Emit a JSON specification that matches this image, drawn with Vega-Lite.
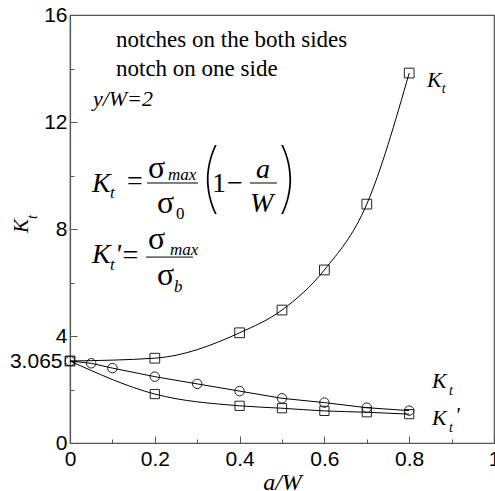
{
  "$schema": "https://vega.github.io/schema/vega-lite/v6.json",
  "width": 424,
  "height": 428,
  "autosize": {"type": "none"},
  "padding": {"left": 70, "top": 15, "right": 1, "bottom": 48},
  "background": "white",
  "config": {
    "view": {"stroke": "#555", "strokeWidth": 1.2},
    "axis": {
      "grid": false,
      "domainColor": "#555",
      "domainWidth": 1.2,
      "tickColor": "#555",
      "tickWidth": 1,
      "labelFont": "Liberation Sans",
      "labelFontSize": 21,
      "labelColor": "black",
      "labelFlush": false,
      "labelOverlap": false,
      "labelBound": false
    },
    "text": {"font": "Liberation Serif", "color": "black", "align": "left", "baseline": "alphabetic"}
  },
  "datasets": {
    "curves": [
      {"series": "both", "x": 0, "y": 3.065},
      {"series": "both", "x": 0.2, "y": 3.17},
      {"series": "both", "x": 0.4, "y": 4.12},
      {"series": "both", "x": 0.5, "y": 4.97},
      {"series": "both", "x": 0.6, "y": 6.47},
      {"series": "both", "x": 0.7, "y": 8.93},
      {"series": "both", "x": 0.8, "y": 13.83},
      {"series": "one", "x": 0, "y": 3.065},
      {"series": "one", "x": 0.05, "y": 2.98},
      {"series": "one", "x": 0.1, "y": 2.8},
      {"series": "one", "x": 0.2, "y": 2.48},
      {"series": "one", "x": 0.3, "y": 2.21},
      {"series": "one", "x": 0.4, "y": 1.94},
      {"series": "one", "x": 0.5, "y": 1.67},
      {"series": "one", "x": 0.6, "y": 1.51},
      {"series": "one", "x": 0.7, "y": 1.32},
      {"series": "one", "x": 0.8, "y": 1.21},
      {"series": "prime", "x": 0, "y": 3.065},
      {"series": "prime", "x": 0.2, "y": 1.83},
      {"series": "prime", "x": 0.4, "y": 1.39},
      {"series": "prime", "x": 0.5, "y": 1.3},
      {"series": "prime", "x": 0.6, "y": 1.2},
      {"series": "prime", "x": 0.7, "y": 1.15},
      {"series": "prime", "x": 0.8, "y": 1.08}
    ],
    "notes": [
      {"label": "notches on the both sides", "x": 0.1085, "y": 14.8},
      {"label": "notch on one side", "x": 0.1085, "y": 13.72}
    ],
    "ratio": [{"label": "y/W=2", "x": 0.054, "y": 12.6}],
    "italicBig": [
      {"label": "K", "x": 0.0519, "y": 9.383},
      {"label": "K", "x": 0.0519, "y": 6.729},
      {"label": "'", "x": 0.1061, "y": 6.72},
      {"label": "a", "x": 0.4387, "y": 9.907},
      {"label": "W", "x": 0.4245, "y": 8.636}
    ],
    "romanBig": [
      {"label": "=", "x": 0.1344, "y": 9.458},
      {"label": "1", "x": 0.335, "y": 9.383},
      {"label": "−", "x": 0.37, "y": 9.383},
      {"label": "=", "x": 0.124, "y": 6.692}
    ],
    "sigma": [
      {"label": "σ", "x": 0.184, "y": 9.907},
      {"label": "σ", "x": 0.2052, "y": 8.598},
      {"label": "σ", "x": 0.184, "y": 7.252},
      {"label": "σ", "x": 0.2052, "y": 5.907}
    ],
    "subItalic": [
      {"label": "t", "x": 0.0943, "y": 9.159},
      {"label": "max", "x": 0.2311, "y": 9.832},
      {"label": "t", "x": 0.0943, "y": 6.467},
      {"label": "max", "x": 0.2358, "y": 7.028},
      {"label": "b", "x": 0.2453, "y": 5.645}
    ],
    "subRoman": [{"label": "0", "x": 0.25, "y": 8.374}],
    "parens": [
      {"label": "(", "x": 0.302, "y": 8.93},
      {"label": ")", "x": 0.486, "y": 8.93}
    ],
    "bars": [
      {"x": 0.1816, "x2": 0.3019, "y": 9.72},
      {"x": 0.4245, "x2": 0.488, "y": 9.72},
      {"x": 0.179, "x2": 0.29, "y": 6.95}
    ],
    "curveK": [
      {"label": "K", "x": 0.842, "y": 13.308},
      {"label": "K", "x": 0.8538, "y": 2.056},
      {"label": "K", "x": 0.8538, "y": 0.673},
      {"label": "'", "x": 0.908, "y": 0.785}
    ],
    "curveT": [
      {"label": "t", "x": 0.877, "y": 13.084},
      {"label": "t", "x": 0.8939, "y": 1.794},
      {"label": "t", "x": 0.8939, "y": 0.411}
    ],
    "axisK": [{"label": "K", "x": -0.099, "y": 7.85}],
    "axisT": [{"label": "t", "x": -0.078, "y": 8.37}]
  },
  "layer": [
    {
      "data": {"name": "curves"},
      "mark": {"type": "point", "filled": false, "stroke": "#222", "strokeWidth": 1, "opacity": 1},
      "encoding": {
        "x": {
          "field": "x", "type": "quantitative",
          "scale": {"domain": [0, 1], "nice": false, "zero": false},
          "axis": {
            "title": "a/W",
            "titleFont": "Liberation Serif",
            "titleFontStyle": "italic",
            "titleFontWeight": "normal",
            "titleFontSize": 24,
            "titleColor": "black",
            "titleBaseline": "alphabetic",
            "titleY": 46,
            "values": [0, 0.1, 0.2, 0.3, 0.4, 0.5, 0.6, 0.7, 0.8, 0.9, 1],
            "labelExpr": "round(datum.value * 10) % 2 == 0 ? format(datum.value, '~g') : ''",
            "tickSize": {"condition": {"test": "round(datum.value * 10) % 2 == 1", "value": -4}, "value": -7},
            "labelPadding": 12
          }
        },
        "y": {
          "field": "y", "type": "quantitative",
          "scale": {"domain": [0, 16], "nice": false, "zero": false},
          "axis": {
            "title": null,
            "values": [0, 2, 3.065, 4, 6, 8, 10, 12, 14, 16],
            "labelExpr": "datum.value % 4 == 0 || datum.value == 3.065 ? format(datum.value, '~g') : ''",
            "tickSize": {"condition": {"test": "datum.value % 4 == 2", "value": -4}, "value": -7},
            "labelPadding": {"condition": {"test": "datum.value == 3.065", "value": 15}, "value": 10}
          }
        },
        "shape": {
          "field": "series", "type": "nominal",
          "scale": {"domain": ["both", "one", "prime"], "range": ["square", "circle", "square"]},
          "legend": null
        },
        "size": {
          "field": "series", "type": "nominal",
          "scale": {"domain": ["both", "one", "prime"], "range": [95, 85, 95]},
          "legend": null
        }
      }
    },
    {
      "data": {"name": "curves"},
      "transform": [{"filter": "datum.series != 'one'"}],
      "mark": {"type": "line", "interpolate": "monotone", "color": "black", "strokeWidth": 1},
      "encoding": {
        "x": {"field": "x", "type": "quantitative"},
        "y": {"field": "y", "type": "quantitative"},
        "detail": {"field": "series"}
      }
    },
    {
      "data": {"name": "curves"},
      "transform": [{"filter": "datum.series == 'one'"}],
      "mark": {"type": "line", "color": "black", "strokeWidth": 1},
      "encoding": {
        "x": {"field": "x", "type": "quantitative"},
        "y": {"field": "y", "type": "quantitative"}
      }
    },
    {
      "data": {"name": "bars"},
      "mark": {"type": "rule", "color": "black", "strokeWidth": 1},
      "encoding": {
        "x": {"field": "x", "type": "quantitative"},
        "x2": {"field": "x2"},
        "y": {"field": "y", "type": "quantitative"}
      }
    },
    {
      "data": {"name": "notes"},
      "mark": {"type": "text", "fontSize": 23},
      "encoding": {
        "x": {"field": "x", "type": "quantitative"},
        "y": {"field": "y", "type": "quantitative"},
        "text": {"field": "label"}
      }
    },
    {
      "data": {"name": "ratio"},
      "mark": {"type": "text", "fontSize": 22, "fontStyle": "italic"},
      "encoding": {
        "x": {"field": "x", "type": "quantitative"},
        "y": {"field": "y", "type": "quantitative"},
        "text": {"field": "label"}
      }
    },
    {
      "data": {"name": "italicBig"},
      "mark": {"type": "text", "fontSize": 28, "fontStyle": "italic"},
      "encoding": {
        "x": {"field": "x", "type": "quantitative"},
        "y": {"field": "y", "type": "quantitative"},
        "text": {"field": "label"}
      }
    },
    {
      "data": {"name": "romanBig"},
      "mark": {"type": "text", "fontSize": 28},
      "encoding": {
        "x": {"field": "x", "type": "quantitative"},
        "y": {"field": "y", "type": "quantitative"},
        "text": {"field": "label"}
      }
    },
    {
      "data": {"name": "sigma"},
      "mark": {"type": "text", "fontSize": 32},
      "encoding": {
        "x": {"field": "x", "type": "quantitative"},
        "y": {"field": "y", "type": "quantitative"},
        "text": {"field": "label"}
      }
    },
    {
      "data": {"name": "subItalic"},
      "mark": {"type": "text", "fontSize": 17, "fontStyle": "italic"},
      "encoding": {
        "x": {"field": "x", "type": "quantitative"},
        "y": {"field": "y", "type": "quantitative"},
        "text": {"field": "label"}
      }
    },
    {
      "data": {"name": "subRoman"},
      "mark": {"type": "text", "fontSize": 17},
      "encoding": {
        "x": {"field": "x", "type": "quantitative"},
        "y": {"field": "y", "type": "quantitative"},
        "text": {"field": "label"}
      }
    },
    {
      "data": {"name": "parens"},
      "mark": {"type": "text", "fontSize": 76, "font": "Inter", "fontWeight": 100},
      "encoding": {
        "x": {"field": "x", "type": "quantitative"},
        "y": {"field": "y", "type": "quantitative"},
        "text": {"field": "label"}
      }
    },
    {
      "data": {"name": "curveK"},
      "mark": {"type": "text", "fontSize": 22, "fontStyle": "italic"},
      "encoding": {
        "x": {"field": "x", "type": "quantitative"},
        "y": {"field": "y", "type": "quantitative"},
        "text": {"field": "label"}
      }
    },
    {
      "data": {"name": "curveT"},
      "mark": {"type": "text", "fontSize": 14, "fontStyle": "italic"},
      "encoding": {
        "x": {"field": "x", "type": "quantitative"},
        "y": {"field": "y", "type": "quantitative"},
        "text": {"field": "label"}
      }
    },
    {
      "data": {"name": "axisK"},
      "mark": {"type": "text", "fontSize": 21, "fontStyle": "italic", "angle": 270},
      "encoding": {
        "x": {"field": "x", "type": "quantitative"},
        "y": {"field": "y", "type": "quantitative"},
        "text": {"field": "label"}
      }
    },
    {
      "data": {"name": "axisT"},
      "mark": {"type": "text", "fontSize": 14, "fontStyle": "italic", "angle": 270},
      "encoding": {
        "x": {"field": "x", "type": "quantitative"},
        "y": {"field": "y", "type": "quantitative"},
        "text": {"field": "label"}
      }
    }
  ]
}
